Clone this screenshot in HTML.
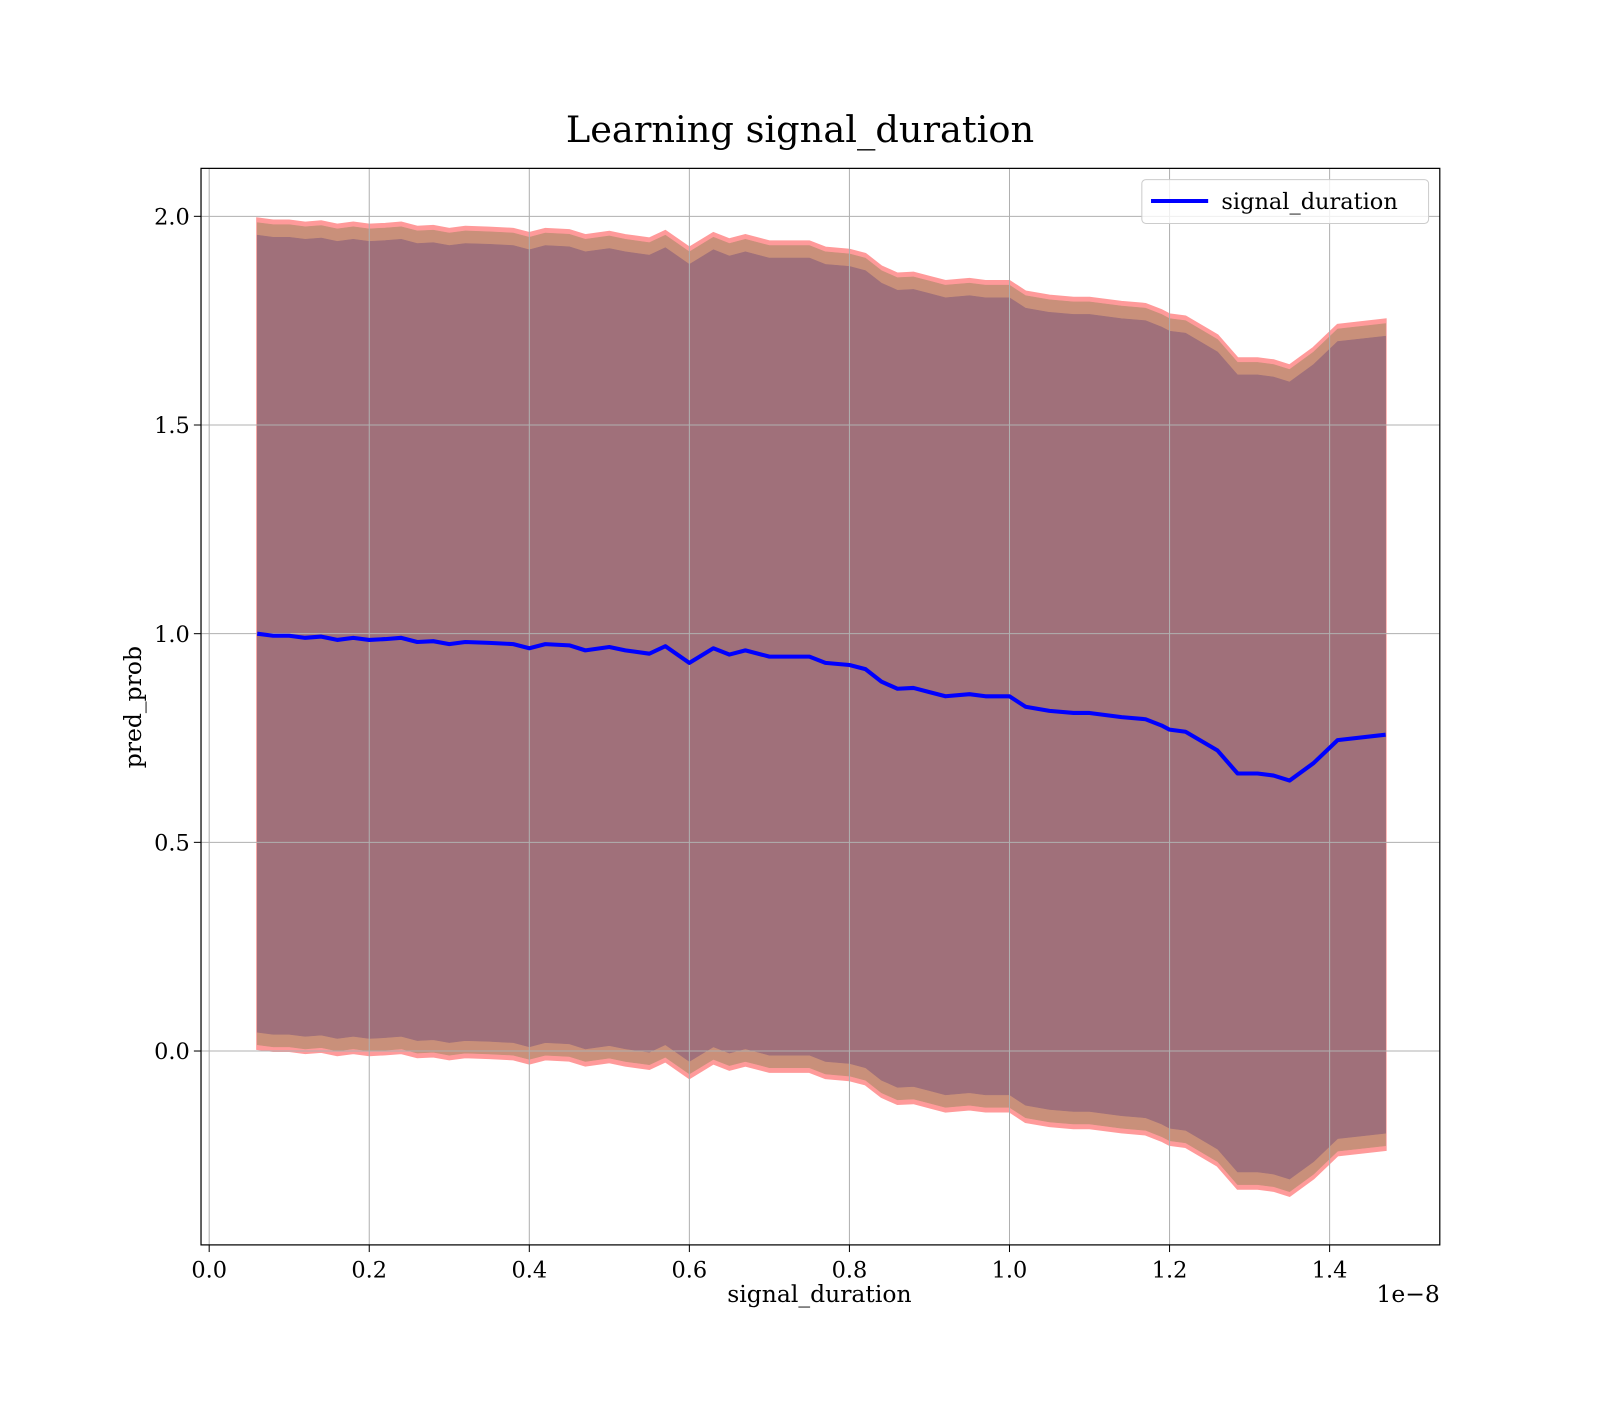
<!DOCTYPE html>
<html><head><meta charset="utf-8"><style>
body{margin:0;background:#fff;font-family:"DejaVu Serif","Liberation Serif",serif;}
svg text{font-family:"DejaVu Serif","Liberation Serif",serif;fill:#000;}
</style></head><body>
<svg id="chart" width="1600" height="1400" viewBox="0 0 1568 1372">
<text x="784" y="139" font-size="36" text-anchor="middle">Learning signal_duration</text>
<g id="bands"></g><g id="grid"></g><g id="lines"></g><g id="ticks"></g>
<rect x="197" y="165" width="1214" height="1055" fill="none" stroke="#000" stroke-width="1.2"/>
<text x="803" y="1276" font-size="23" text-anchor="middle">signal_duration</text>
<text x="1411" y="1276" font-size="23" text-anchor="end">1e−8</text>
<text transform="translate(138,693) rotate(-90)" font-size="23" text-anchor="middle">pred_prob</text>
<g>
<rect x="1119" y="176" width="281" height="43" rx="4" fill="#fff" fill-opacity="0.8" stroke="#ccc"/>
<line x1="1128" y1="197" x2="1184" y2="197" stroke="#0000ff" stroke-width="4"/>
<text x="1197" y="205" font-size="22">signal_duration</text>
</g>
</svg>
<script>
const xs=[0.06,0.08,0.1,0.12,0.14,0.16,0.18,0.2,0.22,0.24,0.26,0.28,0.3,0.32,0.35,0.38,0.4,0.42,0.45,0.47,0.5,0.52,0.55,0.57,0.6,0.63,0.65,0.67,0.7,0.75,0.77,0.8,0.82,0.84,0.86,0.88,0.9,0.92,0.95,0.97,1.0,1.02,1.05,1.08,1.1,1.14,1.17,1.19,1.2,1.22,1.26,1.285,1.31,1.33,1.35,1.38,1.41,1.47];
const means=[1.0,0.995,0.995,0.99,0.993,0.985,0.99,0.985,0.987,0.99,0.98,0.982,0.975,0.98,0.978,0.975,0.965,0.975,0.972,0.96,0.968,0.96,0.952,0.97,0.93,0.965,0.95,0.96,0.945,0.945,0.93,0.925,0.915,0.885,0.868,0.87,0.86,0.85,0.855,0.85,0.85,0.825,0.815,0.81,0.81,0.8,0.795,0.78,0.77,0.765,0.72,0.665,0.665,0.66,0.648,0.69,0.745,0.758];
const bandOffsets=[0.995,0.985,0.955];
const bandColors=["#ff9a9a","#c9907a","#a0707a"];
const xTicks=[0,0.2,0.4,0.6,0.8,1.0,1.2,1.4];
const xTickLabels=["0.0","0.2","0.4","0.6","0.8","1.0","1.2","1.4"];
const yTicks=[0,0.5,1,1.5,2];
const yTickLabels=["0.0","0.5","1.0","1.5","2.0"];
const X=v=>205+v*784.3, Y=v=>1030-v*409;
const NS="http://www.w3.org/2000/svg";
function mk(t,p,a){const e=document.createElementNS(NS,t);for(const k in a)e.setAttribute(k,a[k]);document.getElementById(p).appendChild(e);return e;}
bandOffsets.forEach((o,i)=>{
 let up=xs.map((x,j)=>X(x)+","+Y(means[j]+o)).join(" ");
 let lo=xs.map((x,j)=>X(x)+","+Y(means[j]-o)).reverse().join(" ");
 const e=mk("polygon","bands",{points:up+" "+lo,fill:bandColors[i],stroke:bandColors[i],"stroke-width":i==0?2:0.5});
 
 
});
xTicks.forEach((t,i)=>{
 const g=mk("line","grid",{x1:X(t),x2:X(t),y1:165,y2:1220,stroke:"#b0b0b0","stroke-width":1});
 
 
 mk("line","ticks",{x1:X(t),x2:X(t),y1:1220,y2:1227,stroke:"#000"});
 const tx=mk("text","ticks",{x:X(t),y:1252,"font-size":22,"text-anchor":"middle"});
 tx.textContent=xTickLabels[i];
 
 
});
yTicks.forEach((t,i)=>{
 const g=mk("line","grid",{x1:197,x2:1411,y1:Y(t),y2:Y(t),stroke:"#b0b0b0","stroke-width":1});
 
 
 mk("line","ticks",{x1:190,x2:197,y1:Y(t),y2:Y(t),stroke:"#000"});
 const tx=mk("text","ticks",{x:186,y:Y(t)+8,"font-size":22,"text-anchor":"end"});
 tx.textContent=yTickLabels[i];
 
 
});
const ln=mk("polyline","lines",{points:xs.map((x,j)=>X(x)+","+Y(means[j])).join(" "),fill:"none",stroke:"#0000ff","stroke-width":4,"stroke-linejoin":"round"});


</script>
</body></html>
